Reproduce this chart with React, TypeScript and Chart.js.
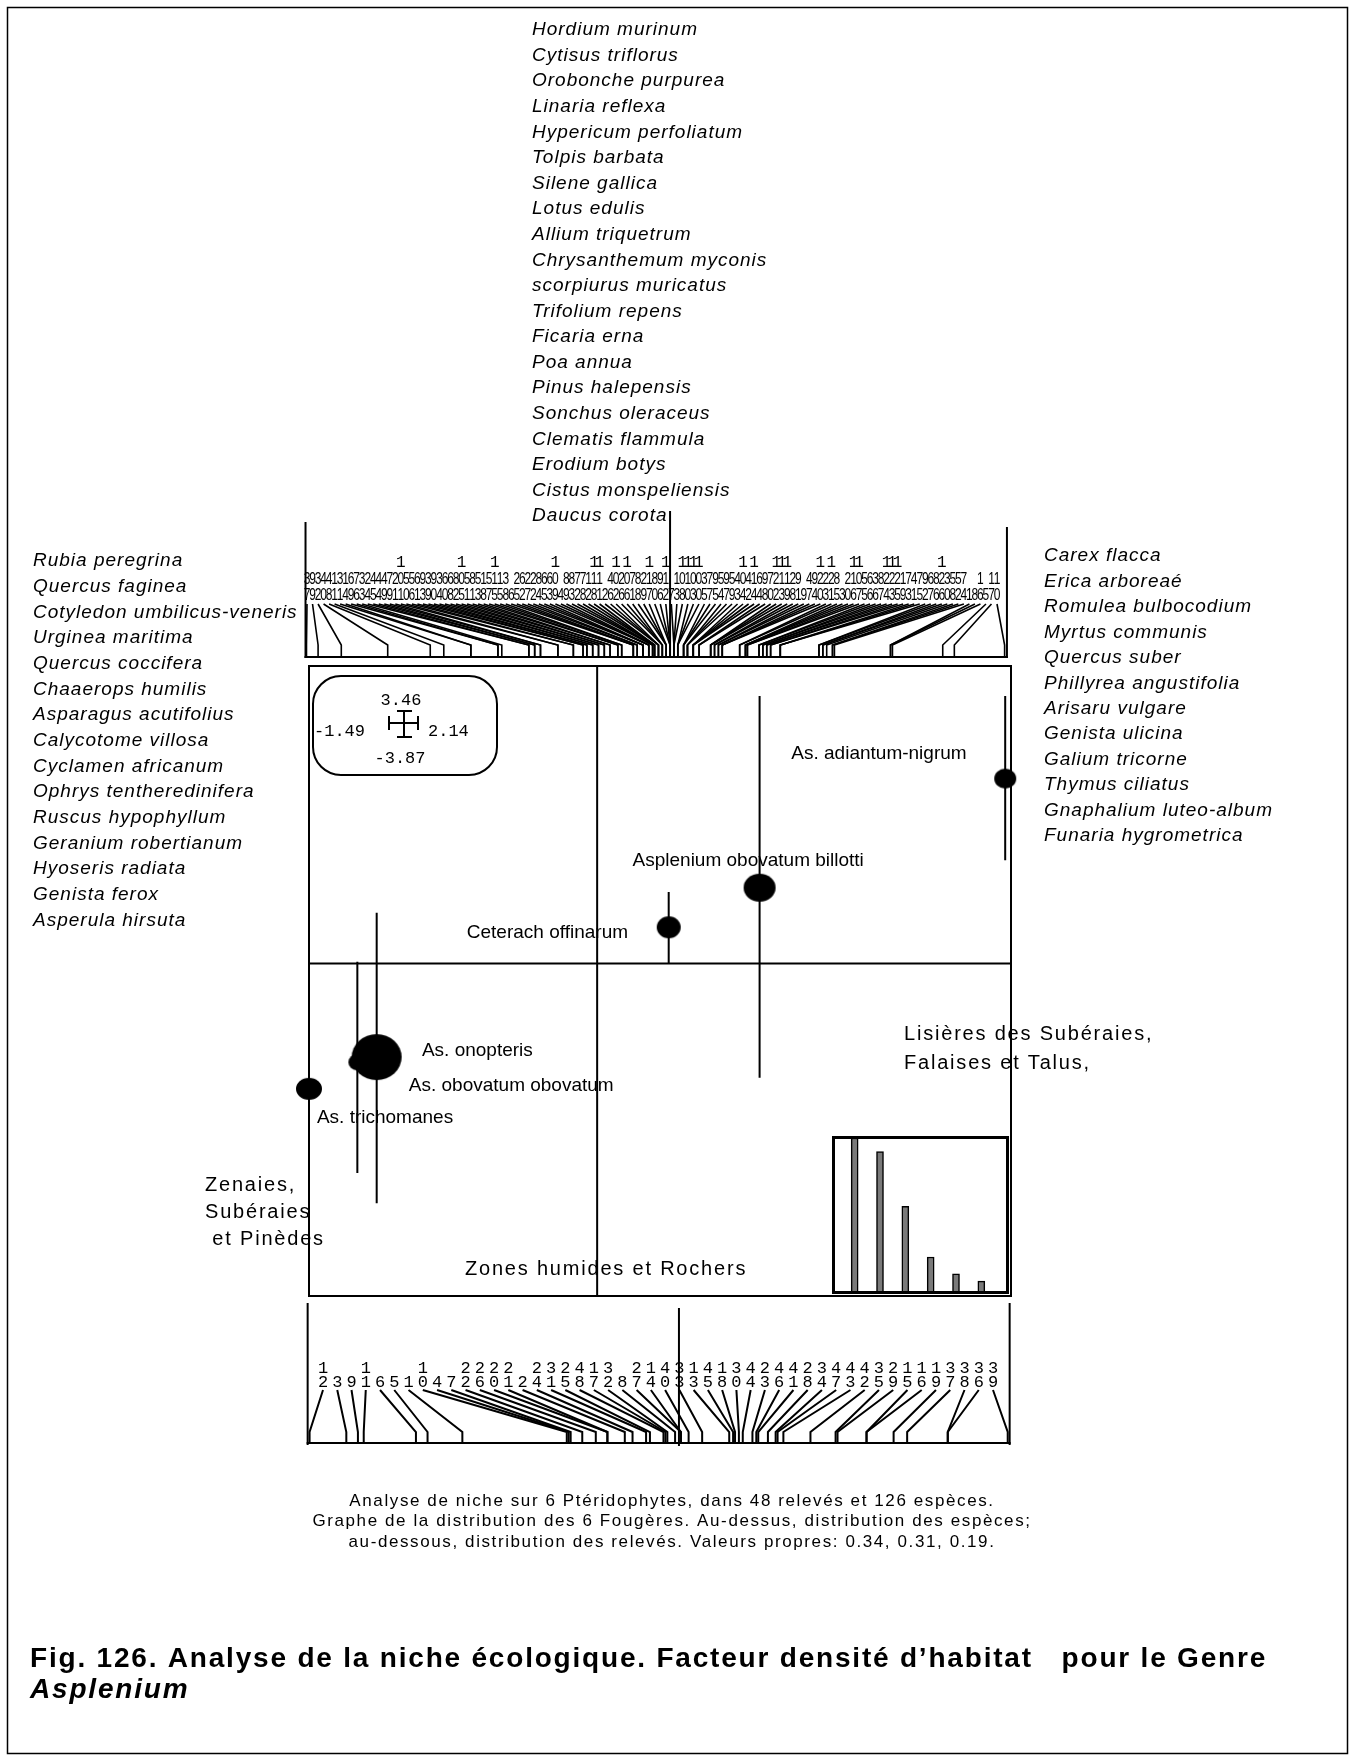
import React, { useEffect, useRef } from 'react';
import { Chart, registerables } from 'chart.js';
Chart.register(...registerables);

// ---------------- DATA ----------------
const FERN_NAMES = ['As. adiantum-nigrum', 'Asplenium obovatum billotti', 'Ceterach offinarum', 'As. onopteris', 'As. obovatum obovatum', 'As. trichomanes'];
const FERN_X = [2.11, 0.84, 0.37, -1.14, -1.24, -1.49];
const FERN_Y = [2.15, 0.88, 0.42, -1.09, -1.15, -1.46];
const FERN_SPAN_TOP: (number | null)[] = [3.11, 3.11, 0.83, 0.59, 0.02, null];
const FERN_SPAN_BOTTOM: (number | null)[] = [1.2, -1.33, 0.0, -2.79, -2.44, null];

const X_RANGE = [-1.49, 2.14];
const Y_RANGE = [-3.87, 3.46];

const SPECIES_NUMBERS = [37, 99, 32, 40, 48, 11, 31, 14, 69, 76, 33, 24, 45, 44, 49, 79, 21, 101, 50, 56, 61, 93, 39, 90, 34, 60, 68, 82, 105, 51, 81, 53, 18, 57, 115, 15, 38, 6, 25, 62, 27, 22, 84, 65, 63, 109, 4, 89, 83, 72, 78, 12, 118, 111, 2, 46, 102, 26, 106, 71, 88, 29, 117, 80, 96, 112, 7, 13, 108, 110, 103, 100, 35, 77, 95, 54, 97, 59, 43, 104, 42, 114, 64, 98, 70, 122, 113, 119, 28, 91, 9, 47, 94, 120, 23, 121, 85, 3, 20, 116, 107, 55, 66, 36, 87, 124, 123, 125, 19, 73, 41, 75, 92, 67, 86, 126, 30, 58, 52, 74, 1, 8, 16, 5, 17, 10];
const SPECIES_SCORES = [-1.88, -1.82, -1.70, -1.46, -1.24, -1.17,
  -1.03, -1.03, -0.89, -0.89, -0.87, -0.73, -0.73, -0.70, -0.70, -0.67, -0.67,
  -0.58, -0.58, -0.50, -0.50, -0.45, -0.45, -0.43, -0.43, -0.40, -0.40, -0.37, -0.37,
  -0.34, -0.34, -0.31, -0.31, -0.27, -0.27, -0.25, -0.25,
  -0.19, -0.19, -0.19, -0.17, -0.17, -0.14, -0.14, -0.14, -0.11, -0.11, -0.11,
  -0.09, -0.09, -0.09, -0.08, -0.08, -0.08, -0.06, -0.06, -0.06, -0.04, -0.04, -0.04,
  -0.02, -0.02, -0.02, 0.00, 0.00, 0.00,
  0.02, 0.02, 0.02, 0.04, 0.04, 0.04, 0.07, 0.07, 0.07, 0.09, 0.09, 0.09, 0.12, 0.12, 0.12, 0.12,
  0.15, 0.15, 0.21, 0.21, 0.21, 0.23, 0.23, 0.25, 0.25, 0.27, 0.27, 0.27,
  0.36, 0.36, 0.39, 0.39, 0.39, 0.40, 0.40,
  0.46, 0.46, 0.48, 0.48, 0.50, 0.50, 0.52, 0.52, 0.57, 0.57, 0.57,
  0.77, 0.77, 0.79, 0.79, 0.81, 0.84, 0.84, 0.85,
  1.14, 1.14, 1.15, 1.41, 1.47, 1.73];
const SPECIES_AXIS = [-1.885, 1.742];
const SPECIES_SCALE = [-1.867, 1.763];

const RELEVE_NUMBERS = [12, 3, 9, 11, 6, 5, 1, 10, 4, 7, 22, 26, 20, 21, 2, 24, 31, 25, 48, 17, 32, 8, 27, 14, 40, 33, 13, 45, 18, 30, 44, 23, 46, 41, 28, 34, 47, 43, 42, 35, 29, 15, 16, 19, 37, 38, 36, 39];
const RELEVE_SCORES = [-1.91, -1.72, -1.66, -1.63, -1.36, -1.30, -1.12, -0.58, -0.57, -0.56,
  -0.50, -0.43, -0.37, -0.37, -0.28, -0.24, -0.17, -0.15, -0.08, -0.07,
  -0.06, -0.02, 0.01, 0.01, 0.05, 0.12, 0.26, 0.28, 0.29, 0.31,
  0.33, 0.38, 0.40, 0.41, 0.46, 0.50, 0.51, 0.54, 0.68, 0.81,
  0.82, 0.97, 0.97, 1.11, 1.18, 1.39, 1.39, 1.70];
const RELEVE_AXIS = [-1.92, 1.71];
const RELEVE_SCALE = [-1.913, 1.717];

const EIGEN_LABELS = ['1', '2', '3', '4', '5', '6'];
const EIGENVALUES = [0.34, 0.31, 0.19, 0.079, 0.042, 0.026];

const SCALE_BOX = { top: '3.46', left: '-1.49', right: '2.14', bottom: '-3.87' };

const TOP_SPECIES = ['Hordium murinum', 'Cytisus triflorus', 'Orobonche purpurea', 'Linaria reflexa', 'Hypericum perfoliatum', 'Tolpis barbata', 'Silene gallica', 'Lotus edulis', 'Allium triquetrum', 'Chrysanthemum myconis', 'scorpiurus muricatus', 'Trifolium repens', 'Ficaria erna', 'Poa annua', 'Pinus halepensis', 'Sonchus oleraceus', 'Clematis flammula', 'Erodium botys', 'Cistus monspeliensis', 'Daucus corota'];
const LEFT_SPECIES = ['Rubia peregrina', 'Quercus faginea', 'Cotyledon umbilicus-veneris', 'Urginea maritima', 'Quercus coccifera', 'Chaaerops humilis', 'Asparagus acutifolius', 'Calycotome villosa', 'Cyclamen africanum', 'Ophrys tentheredinifera', 'Ruscus hypophyllum', 'Geranium robertianum', 'Hyoseris radiata', 'Genista ferox', 'Asperula hirsuta'];
const RIGHT_SPECIES = ['Carex flacca', 'Erica arboreaé', 'Romulea bulbocodium', 'Myrtus communis', 'Quercus suber', 'Phillyrea angustifolia', 'Arisaru vulgare', 'Genista ulicina', 'Galium tricorne', 'Thymus ciliatus', 'Gnaphalium luteo-album', 'Funaria hygrometrica'];

const CAPTION = [
  'Analyse de niche sur 6 Ptéridophytes, dans 48 relevés et 126 espèces.',
  'Graphe de la distribution des 6 Fougères. Au-dessus, distribution des espèces;',
  'au-dessous, distribution des relevés. Valeurs propres: 0.34, 0.31, 0.19.',
];
const TITLE_1 = 'Fig. 126. Analyse de la niche écologique. Facteur densité d’habitat   pour le Genre';
const TITLE_2 = 'Asplenium';

// ---------------- STYLE / LAYOUT ----------------
const W = 1356, H = 1760;
const AREA = { left: 309, top: 666, right: 1011, bottom: 1296 };
const FERN_SIZES = [[11, 10], [16, 14], [12, 11], [25, 23], [9, 8], [13, 11]];
const FERN_LABEL_AT = [[1.004, 2.38], [0.183, 1.137], [-0.674, 0.295], [-0.906, -1.08], [-0.974, -1.485], [-1.449, -1.857]];

const SANS = "'Liberation Sans', Arial, Helvetica, sans-serif";
const MONO = "'Liberation Mono', 'Courier New', monospace";

function ellipseImg(rx: number, ry: number) {
  const c = document.createElement('canvas');
  c.width = Math.ceil(rx * 2) + 2;
  c.height = Math.ceil(ry * 2) + 2;
  const g = c.getContext('2d')!;
  g.fillStyle = '#000';
  g.beginPath();
  g.ellipse(c.width / 2, c.height / 2, rx, ry, 0, 0, Math.PI * 2);
  g.fill();
  return c;
}

function txt(ctx: CanvasRenderingContext2D, s: string, x: number, y: number, font: string, align: CanvasTextAlign = 'left', baseline: CanvasTextBaseline = 'alphabetic', spacing = 0) {
  ctx.font = font;
  ctx.textAlign = align;
  ctx.textBaseline = baseline;
  (ctx as any).letterSpacing = spacing + 'px';
  ctx.fillText(s, x, y);
  (ctx as any).letterSpacing = '0px';
}

function poly(ctx: CanvasRenderingContext2D, pts: number[][]) {
  ctx.beginPath();
  ctx.moveTo(pts[0][0], pts[0][1]);
  for (let i = 1; i < pts.length; i++) ctx.lineTo(pts[i][0], pts[i][1]);
  ctx.stroke();
}

const pagePlugin = {
  id: 'page',
  beforeDatasetsDraw(chart: any) {
    const { ctx, chartArea: a } = chart;
    ctx.save();
    ctx.strokeStyle = '#000';
    ctx.lineWidth = 2;
    ctx.strokeRect(a.left, a.top, a.right - a.left, a.bottom - a.top);
    ctx.restore();
  },
  afterDraw(chart: any) {
    const ctx: CanvasRenderingContext2D = chart.ctx;
    const xs = chart.scales.xs, xr = chart.scales.xr, x = chart.scales.x, y = chart.scales.y;
    ctx.save();
    ctx.fillStyle = '#000';
    ctx.strokeStyle = '#000';
    ctx.lineCap = 'butt';

    // outer frame
    ctx.lineWidth = 1.5;
    ctx.strokeRect(7.5, 7.5, 1340, 1746);

    // species names
    const itf = `italic 19px ${SANS}`;
    TOP_SPECIES.forEach((s, i) => txt(ctx, s, 532, 30 + i * 25.58, itf, 'left', 'middle', 1));
    LEFT_SPECIES.forEach((s, i) => txt(ctx, s, 33, 561 + i * 25.66, itf, 'left', 'middle', 1));
    RIGHT_SPECIES.forEach((s, i) => txt(ctx, s, 1044, 556 + i * 25.45, itf, 'left', 'middle', 1));

    // ---- top species axis ----
    const sL = xs.getPixelForValue(SPECIES_AXIS[0]);
    const sR = xs.getPixelForValue(SPECIES_AXIS[1]);
    const s0 = xs.getPixelForValue(0);
    ctx.lineWidth = 2;
    poly(ctx, [[sL, 522], [sL, 658]]);
    poly(ctx, [[sR, 527], [sR, 658]]);
    poly(ctx, [[s0, 511], [s0, 658]]);
    poly(ctx, [[sL - 1, 657], [sR + 1, 657]]);
    const nS = SPECIES_NUMBERS.length;
    ctx.lineWidth = 1.6;
    for (let i = 0; i < nS; i++) {
      const lx = 307 + (997 - 307) * i / (nS - 1);
      const tx = xs.getPixelForValue(SPECIES_SCORES[i]);
      poly(ctx, [[lx, 604], [tx, 645], [tx, 657]]);
    }
    for (let i = 0; i < nS; i++) {
      const lx = 307 + (997 - 307) * i / (nS - 1);
      const n = SPECIES_NUMBERS[i];
      if (n >= 100) txt(ctx, '1', lx, 563, `16px ${MONO}`, 'center', 'middle');
      const drawNarrow = (d: string, yy: number) => {
        ctx.save();
        ctx.translate(lx, yy);
        ctx.scale(0.75, 1);
        txt(ctx, d, 0, 0, `16px ${SANS}`, 'center', 'middle');
        ctx.restore();
      };
      if (n >= 10) drawNarrow(String(Math.floor(n / 10) % 10), 580);
      drawNarrow(String(n % 10), 596);
    }

    // ---- bottom relevé axis ----
    const rL = xr.getPixelForValue(RELEVE_AXIS[0]);
    const rR = xr.getPixelForValue(RELEVE_AXIS[1]);
    const r0 = xr.getPixelForValue(0);
    ctx.lineWidth = 2;
    poly(ctx, [[rL, 1303], [rL, 1445]]);
    poly(ctx, [[rR, 1303], [rR, 1445]]);
    poly(ctx, [[r0, 1308], [r0, 1446]]);
    poly(ctx, [[rL - 1, 1443], [rR + 1, 1443]]);
    const nR = RELEVE_NUMBERS.length;
    for (let i = 0; i < nR; i++) {
      const lx = 323 + (993 - 323) * i / (nR - 1);
      const tx = xr.getPixelForValue(RELEVE_SCORES[i]);
      poly(ctx, [[lx, 1390], [tx, 1432], [tx, 1443]]);
      const n = RELEVE_NUMBERS[i];
      if (n >= 10) txt(ctx, String(Math.floor(n / 10)), lx, 1368, `17px ${MONO}`, 'center', 'middle');
      txt(ctx, String(n % 10), lx, 1382, `17px ${MONO}`, 'center', 'middle');
    }

    // ---- scale box ----
    ctx.lineWidth = 2;
    ctx.beginPath();
    (ctx as any).roundRect(313, 676, 184, 99, 28);
    ctx.stroke();
    const mf = `17px ${MONO}`;
    txt(ctx, SCALE_BOX.top, 401, 700, mf, 'center', 'middle');
    txt(ctx, SCALE_BOX.left, 314, 731, mf, 'left', 'middle');
    txt(ctx, SCALE_BOX.right, 428, 731, mf, 'left', 'middle');
    txt(ctx, SCALE_BOX.bottom, 400, 758, mf, 'center', 'middle');
    poly(ctx, [[389, 723], [418, 723]]);
    poly(ctx, [[389, 716], [389, 730]]);
    poly(ctx, [[418, 716], [418, 730]]);
    poly(ctx, [[404, 711], [404, 737]]);
    poly(ctx, [[397, 711], [412, 711]]);
    poly(ctx, [[397, 737], [412, 737]]);

    // ---- fern labels ----
    FERN_NAMES.forEach((s, i) => {
      const [lx, ly] = FERN_LABEL_AT[i];
      txt(ctx, s, x.getPixelForValue(lx), y.getPixelForValue(ly), `19px ${SANS}`, 'left', 'alphabetic');
    });

    // ---- region labels ----
    const rf = `20px ${SANS}`;
    txt(ctx, 'Lisières des Subéraies,', 904, 1040, rf, 'left', 'alphabetic', 1.8);
    txt(ctx, 'Falaises et Talus,', 904, 1069, rf, 'left', 'alphabetic', 1.8);
    txt(ctx, 'Zenaies,', 205, 1191, rf, 'left', 'alphabetic', 1.8);
    txt(ctx, 'Subéraies', 205, 1218, rf, 'left', 'alphabetic', 1.8);
    txt(ctx, ' et Pinèdes', 205, 1245, rf, 'left', 'alphabetic', 1.8);
    txt(ctx, 'Zones humides et Rochers', 465, 1275, rf, 'left', 'alphabetic', 1.8);

    // ---- caption ----
    CAPTION.forEach((s, i) => txt(ctx, s, 672, 1501 + i * 20.5, `17px ${SANS}`, 'center', 'middle', 1.6));

    // ---- title ----
    txt(ctx, TITLE_1, 30, 1667, `bold 28px ${SANS}`, 'left', 'alphabetic', 1.8);
    txt(ctx, TITLE_2, 30, 1698, `italic bold 28px ${SANS}`, 'left', 'alphabetic', 1.8);

    ctx.restore();
  },
};

export default function App() {
  const mainRef = useRef<HTMLCanvasElement>(null);
  const insetRef = useRef<HTMLCanvasElement>(null);

  useEffect(() => {
    const imgs = FERN_SIZES.map(([rx, ry]) => ellipseImg(rx, ry));
    const lineSets: any[] = [];
    FERN_NAMES.forEach((name, i) => {
      const t = FERN_SPAN_TOP[i], b = FERN_SPAN_BOTTOM[i];
      if (t == null || b == null) return;
      lineSets.push({
        type: 'line', label: name + ' span',
        data: [{ x: FERN_X[i], y: t }, { x: FERN_X[i], y: b }],
        borderColor: '#000', borderWidth: 2, pointRadius: 0, clip: false,
      });
    });
    const main = new Chart(mainRef.current!, {
      type: 'scatter',
      data: {
        datasets: [
          {
            type: 'scatter', label: 'Fougères',
            data: FERN_X.map((xv, i) => ({ x: xv, y: FERN_Y[i] })),
            pointStyle: imgs as any, pointRadius: 2, pointHoverRadius: 2,
            backgroundColor: '#000', borderColor: '#000', clip: false,
          } as any,
          ...lineSets,
          {
            type: 'line', label: 'x0',
            data: [{ x: 0, y: Y_RANGE[0] }, { x: 0, y: Y_RANGE[1] }],
            borderColor: '#000', borderWidth: 2, pointRadius: 0, clip: false,
          },
          {
            type: 'line', label: 'y0',
            data: [{ x: X_RANGE[0], y: 0 }, { x: X_RANGE[1], y: 0 }],
            borderColor: '#000', borderWidth: 2, pointRadius: 0, clip: false,
          },
        ],
      },
      options: {
        responsive: false,
        maintainAspectRatio: false,
        animation: false,
        devicePixelRatio: 1,
        events: [],
        layout: { padding: { left: AREA.left, top: AREA.top, right: W - AREA.right, bottom: H - AREA.bottom } },
        plugins: { legend: { display: false }, tooltip: { enabled: false } },
        scales: {
          x: { type: 'linear', min: X_RANGE[0], max: X_RANGE[1], display: false },
          y: { type: 'linear', min: Y_RANGE[0], max: Y_RANGE[1], display: false },
          xs: { type: 'linear', axis: 'x', min: SPECIES_SCALE[0], max: SPECIES_SCALE[1], display: false },
          xr: { type: 'linear', axis: 'x', min: RELEVE_SCALE[0], max: RELEVE_SCALE[1], display: false },
        } as any,
      },
      plugins: [pagePlugin as any],
    });

    const inset = new Chart(insetRef.current!, {
      type: 'bar',
      data: {
        labels: EIGEN_LABELS,
        datasets: [{
          label: 'Valeurs propres', data: EIGENVALUES,
          backgroundColor: '#7a7a7a', borderColor: '#000', borderWidth: 1.5,
          barThickness: 7, borderSkipped: false,
        } as any],
      },
      options: {
        responsive: false,
        maintainAspectRatio: false,
        animation: false,
        devicePixelRatio: 1,
        events: [],
        layout: { padding: { left: 10, right: 15, top: 2, bottom: 1 } },
        plugins: { legend: { display: false }, tooltip: { enabled: false } },
        scales: {
          x: { display: false },
          y: { display: false, min: 0, max: 0.34 },
        },
      },
      plugins: [{
        id: 'frame',
        afterDraw(c: any) {
          const g = c.ctx;
          g.save();
          g.strokeStyle = '#000';
          g.lineWidth = 3;
          g.strokeRect(1.5, 1.5, 174, 155);
          g.restore();
        },
      } as any],
    });

    return () => { main.destroy(); inset.destroy(); };
  }, []);

  return (
    <div style={{ position: 'absolute', left: 0, top: 0, width: W, height: H, background: '#fff', overflow: 'hidden' }}>
      <canvas ref={mainRef} width={W} height={H} style={{ position: 'absolute', left: 0, top: 0, width: W, height: H }} />
      <div style={{ position: 'absolute', left: 832, top: 1136, width: 177, height: 158, background: '#fff' }}>
        <canvas ref={insetRef} width={177} height={158} style={{ display: 'block', width: 177, height: 158 }} />
      </div>
    </div>
  );
}
